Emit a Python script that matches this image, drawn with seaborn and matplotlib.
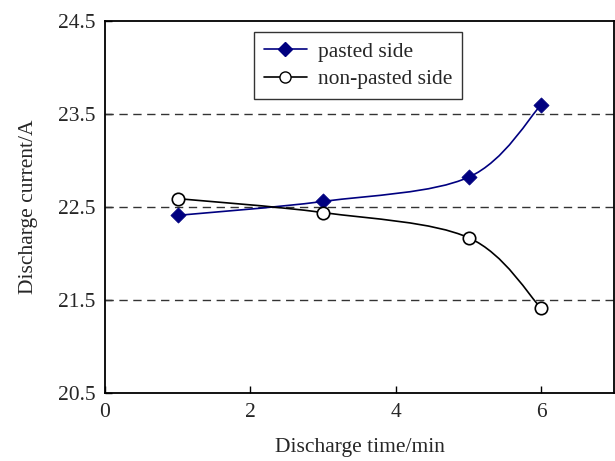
import numpy as np
import pandas as pd
import matplotlib
matplotlib.use("Agg")
import matplotlib.pyplot as plt
from matplotlib.path import Path
from matplotlib.patches import PathPatch
from matplotlib.lines import Line2D
import seaborn as sns

# Measured discharge current on both sides of the plate
time_min = [1, 3, 5, 6]
pasted = [22.41, 22.56, 22.82, 23.60]
non_pasted = [22.59, 22.44, 22.17, 21.41]

x_ticks = [0, 2, 4, 6]
y_ticks = [20.5, 21.5, 22.5, 23.5, 24.5]
grid_levels = [21.5, 22.5, 23.5]

sns.set_theme(style="white")
plt.rcParams["font.family"] = ["Liberation Serif", "DejaVu Serif"]
plt.rcParams["mathtext.fontset"] = "stix"

FS = 15.5

fig = plt.figure(figsize=(6.15, 4.61), dpi=100)
ax = fig.add_axes([105 / 615, 1 - 393 / 461, 509 / 615, 372 / 461])


def smooth_path(xs, ys):
    """Cubic Bezier path through the points (Catmull-Rom style tangents)."""
    pts = np.column_stack([xs, ys]).astype(float)
    n = len(pts)
    verts = [pts[0]]
    codes = [Path.MOVETO]
    for i in range(n - 1):
        p0 = pts[i - 1] if i > 0 else pts[i]
        p1 = pts[i]
        p2 = pts[i + 1]
        p3 = pts[i + 2] if i + 2 < n else pts[i + 1]
        c1 = p1 + (p2 - p0) / 6.0
        c2 = p2 - (p3 - p1) / 6.0
        verts += [c1, c2, p2]
        codes += [Path.CURVE4] * 3
    return Path(verts, codes)


for lvl in grid_levels:
    ax.axhline(lvl, color="#333333", lw=1.0, ls=(0, (6, 4)), zorder=1)

blue = "#000080"
ax.add_patch(PathPatch(smooth_path(time_min, pasted), fill=False,
                       edgecolor=blue, lw=1.2, zorder=2))
ax.add_patch(PathPatch(smooth_path(time_min, non_pasted), fill=False,
                       edgecolor="black", lw=1.2, zorder=2))

df_p = pd.DataFrame({"t": time_min, "I": pasted})
df_n = pd.DataFrame({"t": time_min, "I": non_pasted})
sns.scatterplot(data=df_p, x="t", y="I", marker="D", s=60, color=blue,
                edgecolor=blue, linewidth=0.5, ax=ax, zorder=3)
sns.scatterplot(data=df_n, x="t", y="I", marker="o", s=80, facecolor="white",
                edgecolor="black", linewidth=1.2, ax=ax, zorder=3)

ax.set_xlim(0, 7)
ax.set_ylim(20.5, 24.5)
ax.set_xticks(x_ticks)
ax.set_yticks(y_ticks)
ax.set_xticklabels([str(v) for v in x_ticks], fontsize=FS)
ax.set_yticklabels([f"{v:.1f}" for v in y_ticks], fontsize=FS)
ax.tick_params(axis="both", direction="in", length=5, width=1, color="black",
               bottom=True, left=True)
ax.tick_params(axis="x", pad=7)
ax.tick_params(axis="y", pad=7)
for sp in ax.spines.values():
    sp.set_color("black")
    sp.set_linewidth(1.3)

ax.set_xlabel("Discharge time/min", fontsize=FS, labelpad=12)
ax.set_ylabel("Discharge current/A", fontsize=FS, labelpad=14)

handles = [
    Line2D([], [], color=blue, lw=1.2, marker="D", markersize=7,
           markerfacecolor=blue, markeredgecolor=blue),
    Line2D([], [], color="black", lw=1.2, marker="o", markersize=8,
           markerfacecolor="white", markeredgecolor="black"),
]
leg = ax.legend(handles, ["pasted side", "non-pasted side"], loc="upper left",
                bbox_to_anchor=(149 / 509, 1 - 11 / 372), fontsize=FS,
                frameon=True, fancybox=False, edgecolor="black",
                handlelength=2.0, borderpad=0.45, labelspacing=0.35,
                handletextpad=0.5, borderaxespad=0.0)
leg.get_frame().set_linewidth(1.0)

fig.savefig("out.png", dpi=100)
